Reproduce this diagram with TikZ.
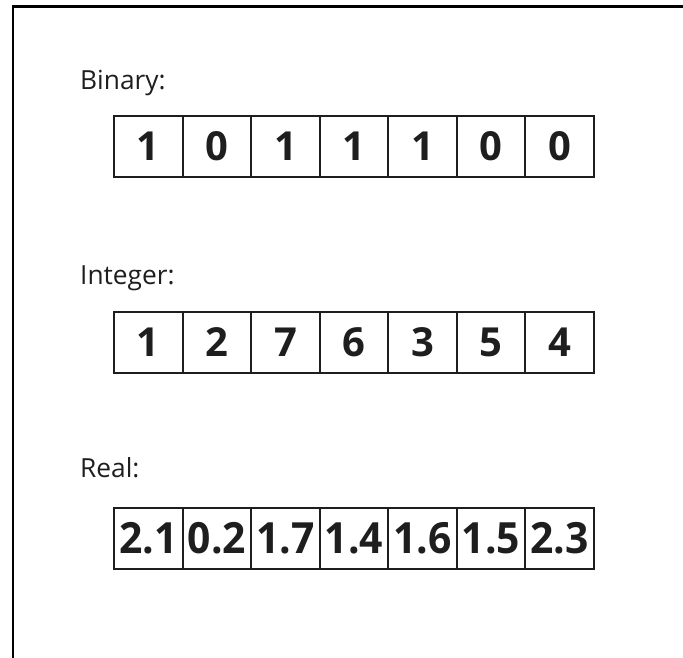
\documentclass[tikz,border=0pt]{standalone}
\usepackage{fontspec}
\setmainfont{Open Sans}
\newfontfamily\realfont[FakeStretch=0.95]{Open Sans}
\definecolor{ink}{HTML}{1E1E1E}
\tikzset{
  cell/.style={draw=ink, line width=2pt, minimum width=68.57pt, minimum height=61pt, inner sep=0pt, text=ink, font=\bfseries\fontsize{40}{40}\selectfont},
  rcell/.style={cell, font=\realfont\bfseries\fontsize{43}{43}\selectfont},
  lbl/.style={anchor=base west, inner sep=0pt, text=ink, font=\fontsize{26.3}{26.3}\selectfont}
}
\begin{document}
\begin{tikzpicture}[x=1pt,y=1pt]
\useasboundingbox (0,0) rectangle (683,-657);
\coordinate (fl) at (13,-658);
\coordinate (fc) at (13,-6.5);
\coordinate (fr) at (684,-6.5);
\draw[line width=2.2pt, black] (fl) -- (fc) -- (fr);

\node[lbl] (lb) at (80,-89.5) {Binary:};
\node[lbl] (li) at (80,-284) {Integer:};
\node[lbl] (lr) at (80,-477) {Real:};

\foreach \v [count=\i] in {1,0,1,1,1,0,0} {
  \node[cell] (b\i) at ({114+68.57*(\i-0.5)},-146.5) {\v};
}
\foreach \v [count=\i] in {1,2,7,6,3,5,4} {
  \node[cell] (n\i) at ({114+68.57*(\i-0.5)},-342.5) {\v};
}
\foreach \v [count=\i] in {2.1,0.2,1.7,1.4,1.6,1.5,2.3} {
  \node[rcell] (r\i) at ({114+68.57*(\i-0.5)},-538.5) {\v};
}
\end{tikzpicture}
\end{document}
